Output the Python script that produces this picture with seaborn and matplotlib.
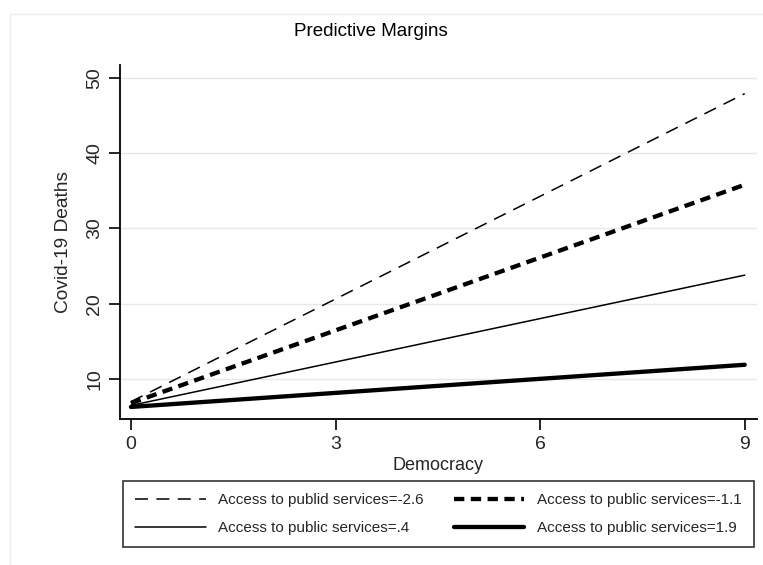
import matplotlib
matplotlib.use("Agg")
import matplotlib.pyplot as plt
from matplotlib.patches import Rectangle
import seaborn as sns
import pandas as pd

# Predictive margins of Covid-19 deaths over democracy, by access to public services
democracy = [0, 9]
labels = [
    "Access to publid services=-2.6",
    "Access to public services=-1.1",
    "Access to public services=.4",
    "Access to public services=1.9",
]
margins_m26 = [7.0, 47.9]
margins_m11 = [6.8, 35.8]
margins_p04 = [6.5, 23.8]
margins_p19 = [6.3, 11.9]

x_ticks = [0, 3, 6, 9]
y_ticks = [10, 20, 30, 40, 50]

series = [margins_m26, margins_m11, margins_p04, margins_p19]
df = pd.concat(
    [pd.DataFrame({"Democracy": democracy, "Deaths": vals, "group": lab})
     for lab, vals in zip(labels, series)],
    ignore_index=True,
)

styles = {
    labels[0]: dict(lw=1.1, ls=(0, (8.5, 5.5))),
    labels[1]: dict(lw=3.1, ls=(0, (2.4, 1.5))),
    labels[2]: dict(lw=1.1, ls="-"),
    labels[3]: dict(lw=3.1, ls="-"),
}

sns.set_theme(style="white")
plt.rcParams["font.family"] = ["Liberation Sans", "DejaVu Sans"]

fig = plt.figure(figsize=(7.63, 5.65), dpi=100)
fig.patch.set_facecolor("white")
fig.add_artist(Rectangle((10 / 763, -0.1), 1.2, 1.1 - 14 / 565,
                         transform=fig.transFigure, fill=False,
                         edgecolor="#ececec", lw=1.0))

ax = fig.add_axes([120 / 763, 1 - 419 / 565, (757 - 120) / 763, (419 - 65) / 565])
for lab in labels:
    sub = df[df["group"] == lab]
    sns.lineplot(data=sub, x="Democracy", y="Deaths", ax=ax, color="black",
                 linewidth=styles[lab]["lw"], linestyle=styles[lab]["ls"],
                 label=lab, legend=False)

ax.set_xlim(-0.16, 9.18)
ax.set_ylim(4.7, 51.7)
ax.set_xticks(x_ticks)
ax.set_yticks(y_ticks)
ax.set_xticklabels([str(t) for t in x_ticks], fontsize=14)
ax.set_yticklabels([str(t) for t in y_ticks], fontsize=14, rotation=90, va="center")
ax.tick_params(axis="both", direction="out", length=8, width=1.2, color="black",
               bottom=True, left=True, pad=4)
ax.yaxis.grid(True, color="#e8e8e8", lw=1.0)
ax.set_axisbelow(True)
for s in ["top", "right"]:
    ax.spines[s].set_visible(False)
for s in ["left", "bottom"]:
    ax.spines[s].set_color("black")
    ax.spines[s].set_linewidth(1.3)
ax.set_xlabel("Democracy", fontsize=13, labelpad=3)
ax.set_ylabel("Covid-19 Deaths", fontsize=13.8, labelpad=10)
fig.text(371 / 763, 1 - 32 / 565, "Predictive Margins", fontsize=13.5,
         ha="center", va="center", color="black")

handles, hl = ax.get_legend_handles_labels()
order = [0, 2, 1, 3]
leg = fig.legend([handles[i] for i in order], [hl[i] for i in order],
                 ncol=2, loc="upper left",
                 bbox_to_anchor=(123 / 763, 1 - 481 / 565),
                 borderaxespad=0, frameon=True, fancybox=False, fontsize=11,
                 handlelength=4.6, handletextpad=0.85, columnspacing=1.95,
                 borderpad=0.8, labelspacing=0.9)
leg.get_frame().set_edgecolor("black")
leg.get_frame().set_linewidth(1.2)

fig.savefig("out.png", dpi=100, facecolor="white")
